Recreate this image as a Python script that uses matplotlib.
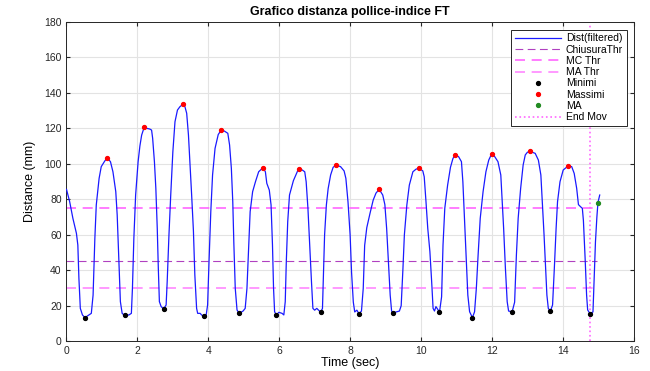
import matplotlib
matplotlib.use("Agg")
import matplotlib.pyplot as plt

plt.rcParams['font.family'] = ['Liberation Sans', 'DejaVu Sans']

# Filtered distance signal (time in s, distance in mm)
time_s = [0.00, 0.09, 0.18, 0.28, 0.32, 0.35, 0.39, 0.45, 0.52, 0.63, 0.70, 0.75, 0.80, 0.84, 0.92, 0.98,
          1.08, 1.15, 1.24, 1.31, 1.39, 1.43, 1.48, 1.52, 1.57, 1.64, 1.76, 1.83, 1.86, 1.90, 1.95, 2.02,
          2.07, 2.12, 2.19, 2.26, 2.35, 2.40, 2.43, 2.48, 2.52, 2.56, 2.59, 2.62, 2.67, 2.74, 2.81, 2.84,
          2.89, 2.94, 3.00, 3.06, 3.13, 3.20, 3.28, 3.34, 3.39, 3.44, 3.48, 3.53, 3.58, 3.62, 3.67, 3.70,
          3.77, 3.81, 3.87, 3.94, 3.98, 4.02, 4.07, 4.12, 4.19, 4.28, 4.36, 4.45, 4.55, 4.60, 4.65, 4.69,
          4.72, 4.76, 4.81, 4.87, 4.98, 5.04, 5.09, 5.14, 5.18, 5.25, 5.33, 5.42, 5.54, 5.61, 5.65, 5.72,
          5.77, 5.81, 5.84, 5.87, 5.92, 5.99, 6.08, 6.13, 6.17, 6.20, 6.24, 6.29, 6.40, 6.47, 6.53, 6.57,
          6.65, 6.72, 6.76, 6.81, 6.86, 6.91, 6.95, 7.00, 7.06, 7.11, 7.17, 7.22, 7.24, 7.28, 7.33, 7.38,
          7.45, 7.52, 7.60, 7.73, 7.83, 7.88, 7.94, 8.00, 8.04, 8.09, 8.13, 8.19, 8.25, 8.32, 8.37, 8.41,
          8.47, 8.56, 8.65, 8.73, 8.82, 8.92, 8.98, 9.03, 9.08, 9.13, 9.17, 9.22, 9.30, 9.39, 9.44, 9.49,
          9.53, 9.60, 9.67, 9.77, 9.86, 9.95, 10.05, 10.09, 10.14, 10.19, 10.25, 10.30, 10.34, 10.38, 10.42, 10.47,
          10.52, 10.58, 10.62, 10.67, 10.75, 10.83, 10.90, 10.97, 11.06, 11.14, 11.18, 11.23, 11.28, 11.32, 11.37, 11.45,
          11.51, 11.56, 11.61, 11.67, 11.75, 11.83, 11.91, 11.99, 12.08, 12.17, 12.25, 12.28, 12.33, 12.38, 12.43, 12.47,
          12.52, 12.57, 12.64, 12.69, 12.74, 12.81, 12.88, 12.94, 13.00, 13.07, 13.22, 13.31, 13.38, 13.42, 13.47, 13.52,
          13.55, 13.59, 13.65, 13.71, 13.76, 13.81, 13.85, 13.92, 14.01, 14.15, 14.25, 14.32, 14.39, 14.44, 14.50, 14.55,
          14.58, 14.63, 14.67, 14.70, 14.77, 14.85, 14.88, 14.92, 14.96, 14.99, 15.04]
distance_mm = [85.6, 78.6, 69.3, 60.8, 54.2, 35.5, 18.5, 14.8, 13.3, 14.8, 15.7, 26.0, 58.0, 76.8, 91.8, 98.4,
               101.6, 103.3, 101.2, 95.5, 84.3, 71.1, 44.8, 22.3, 15.7, 14.5, 14.8, 15.7, 29.8, 58.0, 82.4, 101.2,
               110.0, 116.2, 120.5, 120.0, 119.6, 119.0, 114.4, 101.2, 86.2, 63.6, 41.1, 22.3, 19.5, 18.2, 20.4, 33.5,
               59.9, 82.4, 106.8, 123.7, 130.3, 132.2, 133.5, 132.2, 128.5, 116.2, 101.2, 82.4, 62.2, 37.3, 18.5, 15.7,
               15.7, 14.8, 14.0, 14.8, 20.4, 44.8, 73.0, 93.7, 108.7, 116.5, 118.9, 118.5, 117.2, 110.6, 97.5, 78.6,
               55.3, 29.8, 17.6, 15.7, 17.0, 18.5, 29.8, 54.2, 73.0, 84.3, 89.9, 95.5, 97.8, 95.5, 89.0, 85.2,
               76.8, 54.2, 29.8, 16.6, 14.8, 16.3, 15.7, 14.8, 22.3, 44.8, 67.4, 82.4, 90.5, 93.7, 96.5, 97.1,
               96.5, 95.5, 89.9, 74.9, 54.2, 33.5, 18.5, 17.5, 18.5, 17.5, 16.3, 18.5, 33.0, 60.0, 76.8, 86.0,
               93.7, 98.0, 99.3, 98.4, 96.0, 91.8, 78.6, 59.9, 39.0, 22.0, 16.5, 17.5, 15.5, 17.0, 29.8, 54.0,
               64.0, 72.0, 79.5, 83.5, 85.6, 82.4, 77.0, 63.6, 44.8, 26.0, 17.0, 15.9, 16.5, 17.0, 20.0, 41.0,
               59.9, 76.8, 88.0, 95.5, 97.0, 97.5, 96.0, 92.7, 78.6, 63.6, 50.5, 33.5, 18.5, 17.0, 19.5, 18.0,
               16.3, 25.0, 54.2, 74.9, 88.0, 98.0, 103.0, 105.1, 104.0, 101.2, 89.9, 67.4, 44.8, 26.0, 16.6, 13.3,
               16.6, 29.8, 48.6, 69.3, 84.3, 95.5, 102.1, 105.5, 104.0, 101.2, 93.7, 82.4, 63.6, 41.1, 22.3, 17.0,
               16.8, 16.6, 22.0, 48.6, 69.3, 86.2, 99.3, 105.0, 106.5, 107.0, 105.9, 102.1, 93.7, 78.6, 59.9, 39.2,
               26.0, 18.5, 17.0, 20.4, 41.1, 63.6, 78.6, 89.9, 96.5, 98.8, 98.4, 94.6, 86.2, 77.0, 75.8, 74.9,
               68.0, 46.0, 26.0, 17.6, 15.5, 16.5, 33.5, 56.0, 70.0, 78.1, 82.4]

# Detected minima / maxima / MA point
min_t = [0.52, 1.64, 2.74, 3.87, 4.87, 5.92, 7.17, 8.25, 9.22, 10.52, 11.45, 12.57, 13.65, 14.77]
min_v = [13.3, 14.5, 18.2, 14.0, 15.7, 14.8, 16.3, 15.5, 15.9, 16.3, 13.3, 16.6, 17.0, 15.5]
max_t = [1.15, 2.19, 3.28, 4.36, 5.54, 6.57, 7.60, 8.82, 9.95, 10.97, 11.99, 13.07, 14.15]
max_v = [103.3, 120.5, 133.5, 118.9, 97.8, 97.1, 99.3, 85.6, 97.5, 105.1, 105.5, 107.0, 98.8]
ma_t = [14.99]
ma_v = [78.1]

# Thresholds and end of movement
chiusura_thr = 45
mc_thr = 75
ma_thr = 30
thr_end = 14.96
end_mov = 14.77

fig = plt.figure(figsize=(6.5, 3.71), dpi=100)
ax = fig.add_axes([0.1023, 0.0803, 0.8727, 0.8607])

ax.plot(time_s, distance_mm, color='#1a1aff', lw=0.9, label='Dist(filtered)', zorder=3)
ax.plot([0, thr_end], [chiusura_thr, chiusura_thr], color='#b040c0', lw=0.8,
        dashes=(7, 4), label='ChiusuraThr', zorder=2)
ax.plot([0, thr_end], [mc_thr, mc_thr], color='#ff66ff', lw=1.2,
        dashes=(6, 4), label='MC Thr', zorder=2)
ax.plot([0, thr_end], [ma_thr, ma_thr], color='#ff88ff', lw=1.2,
        dashes=(6, 4), label='MA Thr', zorder=2)
ax.plot(min_t, min_v, 'o', color='black', ms=2.8, label='Minimi', zorder=4)
ax.plot(max_t, max_v, 'o', color='red', ms=2.8, label='Massimi', zorder=4)
ax.plot(ma_t, ma_v, 'o', color='#228b22', ms=2.8, label='MA', zorder=4)
ax.axvline(end_mov, color='#ff66ff', lw=1.2, ls=':', label='End Mov', zorder=2)

ax.set_xlim(0, 16)
ax.set_ylim(0, 180)
ax.set_xticks(range(0, 17, 2))
ax.set_yticks(range(0, 181, 20))
ax.grid(True, color='#e3e3e3', lw=0.8)
ax.set_axisbelow(True)
ax.tick_params(direction='in', length=3, labelsize=7.5, colors='#262626',
               top=True, right=True)
for s in ax.spines.values():
    s.set_color('#262626')
    s.set_linewidth(0.7)

ax.set_title('Grafico distanza pollice-indice FT', fontsize=9, fontweight='bold', pad=5)
ax.set_xlabel('Time (sec)', fontsize=9, labelpad=1)
ax.set_ylabel('Distance (mm)', fontsize=9, labelpad=6)

leg = ax.legend(loc='upper right', fontsize=7.5, frameon=True, fancybox=False,
                edgecolor='#262626', framealpha=1, handlelength=4.4,
                borderpad=0.35, labelspacing=0.12, handletextpad=0.5,
                borderaxespad=0.3, bbox_to_anchor=(0.993, 0.985))
leg.get_frame().set_linewidth(0.7)

fig.savefig('out.png', dpi=100)
